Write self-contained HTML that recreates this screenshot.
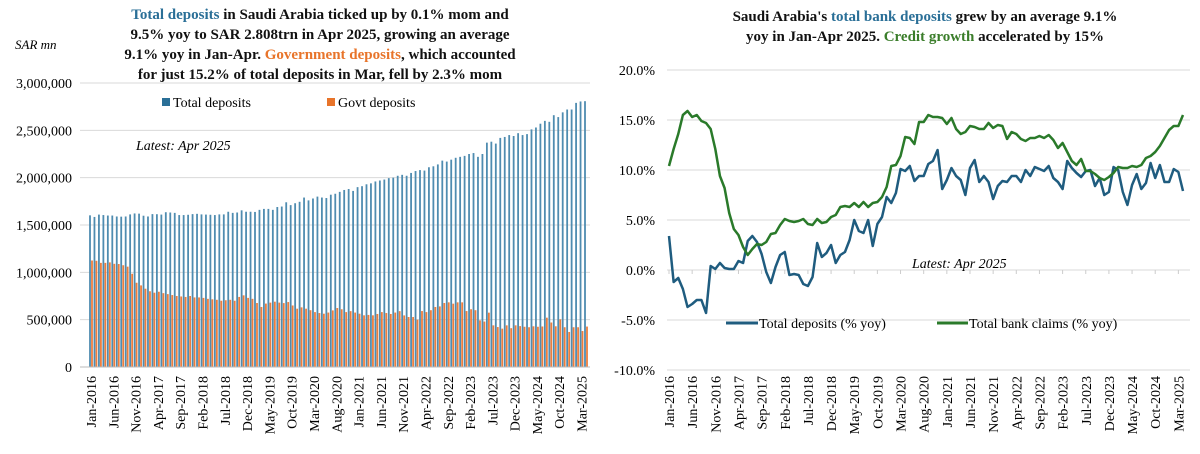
<!DOCTYPE html>
<html><head><meta charset="utf-8"><style>
body{margin:0;background:#fff;width:1200px;height:449px;overflow:hidden;font-family:"Liberation Serif",serif}
svg text{font-family:"Liberation Serif",serif}
</style></head><body>
<svg id="c" width="1200" height="449" viewBox="0 0 1200 449" xmlns="http://www.w3.org/2000/svg">
<g font-size="15" font-weight="bold" text-anchor="middle" fill="#111">
<text x="320" y="19"><tspan fill="#2a6f97">Total deposits</tspan> in Saudi Arabia ticked up by 0.1% mom and</text>
<text x="320" y="39">9.5% yoy to SAR 2.808trn in Apr 2025, growing an average</text>
<text x="320" y="59">9.1% yoy in Jan-Apr. <tspan fill="#e8742a">Government deposits</tspan>, which accounted</text>
<text x="320" y="79">for just 15.2% of total deposits in Mar, fell by 2.3% mom</text>
</g>
<text x="15" y="49" font-size="13" font-style="italic">SAR mn</text>
<g font-size="15" font-weight="bold" text-anchor="middle" fill="#111">
<text x="925" y="21">Saudi Arabia's <tspan fill="#2a6f97">total bank deposits</tspan> grew by an average 9.1%</text>
<text x="925" y="41">yoy in Jan-Apr 2025. <tspan fill="#3a7d2a">Credit growth</tspan> accelerated by 15%</text>
</g>
<g id="L"></g><g id="R"></g>
<g font-size="14">
<rect x="162" y="98" width="8" height="8" fill="#2a6f97"/><text x="173" y="107">Total deposits</text>
<rect x="327" y="98" width="8" height="8" fill="#e8742a"/><text x="338" y="107">Govt deposits</text>
</g>
<text x="136" y="150" font-size="14" font-style="italic">Latest: Apr 2025</text>
<g font-size="14">
<line x1="726" y1="323" x2="758" y2="323" stroke="#1f5c7f" stroke-width="3"/><text x="759" y="328">Total deposits (% yoy)</text>
<line x1="937" y1="323" x2="968" y2="323" stroke="#2a7a2a" stroke-width="3"/><text x="969" y="328">Total bank claims (% yoy)</text>
</g>
<text x="912" y="268" font-size="14" font-style="italic">Latest: Apr 2025</text>
</svg>
<script>
const totalDeposits=[1602,1585,1610,1605,1600,1600,1590,1588,1590,1612,1622,1620,
1598,1590,1615,1614,1610,1635,1632,1628,1605,1605,1608,1615,
1618,1612,1610,1608,1605,1612,1612,1640,1628,1632,1655,1640,
1640,1638,1660,1670,1670,1660,1690,1695,1740,1710,1730,1745,
1790,1760,1780,1800,1790,1785,1820,1830,1850,1870,1880,1860,
1900,1910,1930,1940,1960,1970,1980,1995,2000,2020,2030,2020,
2050,2070,2080,2075,2110,2120,2140,2180,2170,2190,2210,2220,
2230,2250,2260,2220,2250,2370,2380,2360,2420,2430,2450,2440,
2470,2450,2460,2510,2530,2570,2600,2590,2660,2640,2690,2720,
2720,2790,2805,2808];
const govtDeposits=[1125,1122,1100,1100,1105,1090,1088,1075,1060,985,890,862,
827,800,785,795,780,770,760,750,745,740,750,735,
735,730,720,715,710,700,705,710,700,740,757,730,
720,676,634,670,680,690,680,675,686,650,616,630,
616,600,580,570,563,575,598,623,610,580,590,575,
563,546,550,546,560,580,570,560,575,590,545,528,
528,500,591,580,600,634,640,676,683,669,683,683,
591,610,600,493,480,574,440,422,405,440,410,440,
432,425,420,430,425,428,521,470,430,504,420,370,
420,420,380,427];
const depositsYoy=[3.4,-1.2,-0.8,-1.9,-3.7,-3.4,-3.0,-3.0,-4.3,0.4,
0.1,0.7,0.2,0.1,0.1,0.9,0.7,2.9,3.4,2.8,
1.6,-0.2,-1.3,0.3,1.5,1.8,-0.5,-0.4,-0.5,-1.4,
-1.6,-0.7,2.7,1.3,1.7,2.5,0.7,1.5,1.8,3.0,
5.0,3.9,3.7,5.0,2.4,4.6,5.3,7.3,6.7,7.7,
10.1,9.9,10.4,8.9,9.4,9.4,10.6,10.9,12.0,8.1,
9.0,10.2,9.4,9.0,7.5,10.2,11.0,8.8,9.4,8.8,
7.1,8.4,8.9,8.8,9.4,9.4,8.8,10.0,9.4,10.3,
10.1,9.9,10.4,9.2,8.8,8.1,10.9,10.2,9.7,9.3,
9.9,10.0,8.4,9.2,7.5,7.8,10.3,10.0,7.8,6.5,
8.5,9.6,8.1,8.7,10.7,9.2,10.5,8.8,8.8,10.1,9.8,7.9];
const claimsYoy=[10.4,12.1,13.6,15.5,15.9,15.3,15.5,14.9,14.7,14.1,
12.1,9.4,8.2,5.7,4.1,3.5,2.3,1.5,2.1,2.6,
2.5,2.8,3.6,3.7,4.5,5.1,4.9,4.8,4.9,5.1,
4.6,4.5,5.1,4.7,4.8,5.3,5.5,6.3,6.4,6.3,
6.7,6.3,6.8,6.3,6.7,6.8,7.3,8.3,10.4,10.5,
11.4,13.3,13.2,12.6,14.8,14.8,15.5,15.3,15.3,15.2,
14.6,15.2,14.1,13.6,13.8,14.4,14.3,14.1,14.1,14.7,
14.2,14.5,14.4,13.1,13.8,13.6,13.1,12.9,13.2,13.2,
13.4,13.2,13.5,13.0,12.2,12.7,11.8,10.9,10.5,11.1,
9.9,9.9,9.6,9.2,9.0,9.3,9.7,10.3,10.2,10.2,
10.4,10.3,10.5,11.2,11.4,11.8,12.4,13.2,14.0,14.4,14.4,15.5];
const leftTicks=[0,500000,1000000,1500000,2000000,2500000,3000000];
const rightTicks=[-10,-5,0,5,10,15,20];
const monthNames=["Jan","Feb","Mar","Apr","May","Jun","Jul","Aug","Sep","Oct","Nov","Dec"];

const NS="http://www.w3.org/2000/svg";
function mk(p,t,a){const e=document.createElementNS(NS,t);for(const k in a)e.setAttribute(k,a[k]);p.appendChild(e);return e;}
const n=totalDeposits.length;
const lbl=i=>monthNames[i%12]+"-"+(2016+Math.floor(i/12));
// left
const L=document.getElementById("L");
const lx=i=>91+i*(586-91)/(n-1);
const ly=v=>367-v/3000000*284;
leftTicks.forEach(t=>{
 const g=mk(L,"line",{x1:80,x2:590,y1:ly(t),y2:ly(t),stroke:"#d9d9d9","stroke-width":1});
 
 
 const tx=mk(L,"text",{x:72,y:ly(t)+5,"text-anchor":"end","font-size":14});
 tx.textContent=t.toLocaleString("en-US");
 
 
});
totalDeposits.forEach((v,i)=>{
 const r=mk(L,"rect",{x:lx(i)-1.9,y:ly(v*1000),width:1.8,height:367-ly(v*1000),fill:"#4f8cb0"});
 
 
 const g=govtDeposits[i];
 const r2=mk(L,"rect",{x:lx(i)+0.1,y:ly(g*1000),width:1.8,height:367-ly(g*1000),fill:"#ee7d3c"});
 
 
});
mk(L,"line",{x1:80,x2:590,y1:367,y2:367,stroke:"#bbb"});
for(let i=0;i<n;i+=5){
 const t=mk(L,"text",{transform:`translate(${lx(i)+5},376) rotate(-90)`,"text-anchor":"end","font-size":14});
 t.textContent=lbl(i);
 
 
}
// right
const R=document.getElementById("R");
const rx=i=>669+i*(1183-669)/(n-1);
const ry=v=>270-v*10;
rightTicks.forEach(t=>{
 const g=mk(R,"line",{x1:667,x2:1190,y1:ry(t),y2:ry(t),stroke:"#d9d9d9"});
 
 
 const tx=mk(R,"text",{x:655,y:ry(t)+5,"text-anchor":"end","font-size":14});
 tx.textContent=t.toFixed(1)+"%";
 
 
});
for(let i=0;i<n;i+=5){
 mk(R,"line",{x1:rx(i),x2:rx(i),y1:270,y2:274,stroke:"#ccc"});
 const t=mk(R,"text",{transform:`translate(${rx(i)+5},376) rotate(-90)`,"text-anchor":"end","font-size":14});
 t.textContent=lbl(i);
 
 
}
const p1=mk(R,"polyline",{points:depositsYoy.map((v,i)=>rx(i)+","+ry(v)).join(" "),fill:"none",stroke:"#1f5c7f","stroke-width":2.5,"stroke-linejoin":"round"});


const p2=mk(R,"polyline",{points:claimsYoy.map((v,i)=>rx(i)+","+ry(v)).join(" "),fill:"none",stroke:"#2a7a2a","stroke-width":2.5,"stroke-linejoin":"round"});


</script>
</body></html>
